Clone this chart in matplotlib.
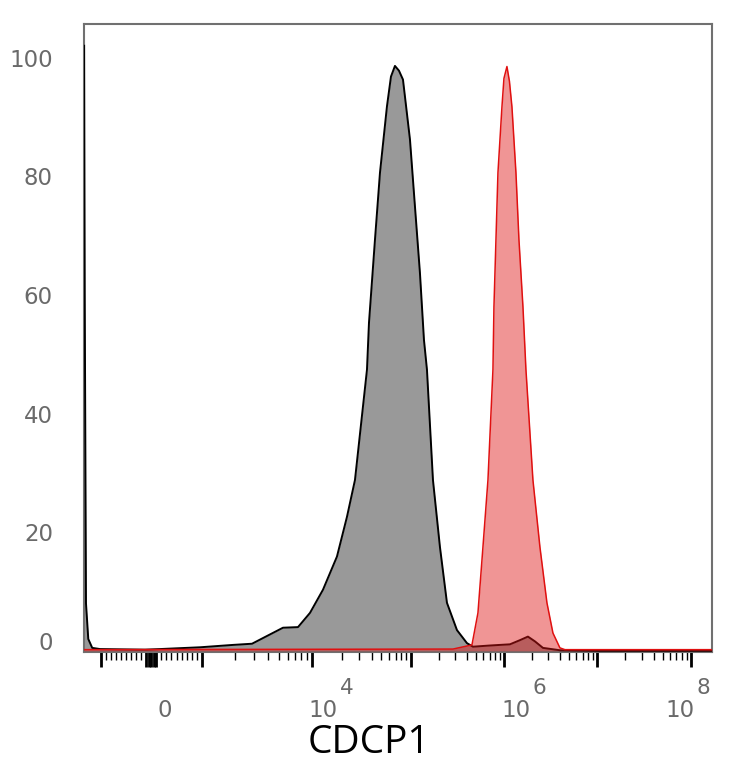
import numpy as np
import matplotlib
matplotlib.use('Agg')
import matplotlib.pyplot as plt
from matplotlib.transforms import ScaledTranslation
from matplotlib.ticker import FixedLocator, NullFormatter

# Histograma CDCP1 (intensidad de fluorescencia, % del modo)
control_x = [-2180, -2120, -2000, -1800, -1500, -1050, -120, 176, 961,
             1913, 2850, 3370, 5450, 7460, 9590, 12910, 17880, 22570, 27180,
             35940, 37650, 43280, 48630, 57220, 62800, 68900, 75650, 83030,
             97700, 110400, 124900, 138000, 148600, 172400, 205000, 243800,
             312300, 400100, 464200, 707000, 1160000, 1486000, 1811000,
             2154000, 2627000, 4000000, 10700000, 167000000]
control_y = [102, 60, 8, 2, 0.5, 0.3, 0.2, 0.3, 0.6,
             1.0, 1.2, 1.9, 3.9, 4.0, 6.4, 10.3, 15.9, 22.6, 28.8,
             47.4, 55.3, 69.3, 80.6, 91.8, 96.8, 98.6, 97.8, 96.3,
             86.2, 74.9, 63.7, 52.4, 47.4, 28.8, 17.5, 8.1,
             3.5, 1.3, 0.7, 0.9, 1.1, 1.8, 2.4,
             1.6, 0.5, 0.1, 0, 0]

cdcp1_x = [-2200, 282900, 452900, 525300, 594500, 673000, 761500, 780600,
           820400, 862000, 951700, 1000000, 1077000, 1146000, 1219000,
           1346000, 1450000, 1601000, 1724000, 2050000, 2438000, 2900000,
           3365000, 4000000, 4529000, 167000000]
cdcp1_y = [0.2, 0.3, 1.0, 6.4, 17.5, 28.8, 47.4, 58.0,
           69.3, 80.6, 91.7, 96.5, 98.5, 96.0, 91.7,
           80.6, 69.3, 58.0, 47.4, 28.8, 17.5, 8.1,
           3.0, 0.5, 0.2, 0.2]

y_ticks = [0, 20, 40, 60, 80, 100]
x_label_vals = [0, 1e4, 1e6, 1e8]
x_label_base = ['0', '10', '10', '10']
x_label_exp = ['', '4', '6', '8']

# escala biexponencial aproximada (lineal entre -1000 y 1000, log fuera)
U_ANCHOR = [-3, -1, 0, 1, 2, 3, 4, 5, 6, 8]
P_ANCHOR = [1, 101, 151, 202, 312, 411, 504, 597, 691, 879]


def forward(x):
    x = np.asarray(x, dtype=float)
    ax_ = np.abs(x)
    u = np.where(ax_ <= 1000, x / 1000,
                 np.sign(x) * (1 + np.log10(np.maximum(ax_, 1000) / 1000)))
    return np.interp(u, U_ANCHOR, P_ANCHOR)


def inverse(p):
    u = np.interp(np.asarray(p, dtype=float), P_ANCHOR, U_ANCHOR)
    au = np.abs(u)
    return np.where(au <= 1, u * 1000,
                    np.sign(u) * 1000 * 10 ** (np.maximum(au, 1) - 1))


fig = plt.figure(figsize=(7.34, 7.68), dpi=100)
ax = fig.add_axes([0.1138, 0.151, 0.856, 0.818])
ax.set_xscale('function', functions=(forward, inverse))

ax.fill_between(control_x, control_y, 0, color='#999999', lw=0, zorder=2)
ax.plot(control_x, control_y, color='black', lw=1.4, zorder=3)
ax.fill_between(cdcp1_x, cdcp1_y, 0, color=(0.87, 0.08, 0.08), alpha=0.45,
                lw=0, zorder=4)
ax.plot(cdcp1_x, cdcp1_y, color='#e01010', lw=1.1, zorder=5)

ax.set_xlim(-2240, 1.67e8)
ax.set_ylim(-0.2, 105.7)

for s in ax.spines.values():
    s.set_color('#707070')
    s.set_linewidth(1.5)

# ticks del eje x
major = [-1000, -100, -50, 0, 50, 100, 1000, 1e4, 1e5, 1e6, 1e7, 1e8]
minor = [v for v in range(-900, 1000, 100) if abs(v) > 100]
for d in [1e3, 1e4, 1e5, 1e6, 1e7]:
    minor += [k * d for k in range(2, 10)]
ax.xaxis.set_major_locator(FixedLocator(major))
ax.xaxis.set_major_formatter(NullFormatter())
ax.xaxis.set_minor_locator(FixedLocator(minor))
ax.xaxis.set_minor_formatter(NullFormatter())
ax.tick_params(axis='x', which='major', length=11, width=2, color='black')
ax.tick_params(axis='x', which='minor', length=6, width=1, color='black')

# etiquetas del eje x: base + exponente
gris = '#6a6a6a'
base_dx = [14, 11.5, 12.5, -11]
for v, b, e, dx in zip(x_label_vals, x_label_base, x_label_exp, base_dx):
    ax.annotate(b, xy=(v, 0), xycoords=('data', 'axes fraction'),
                xytext=(dx, -47), textcoords='offset pixels',
                ha='center', va='top', fontsize=16.5, color=gris,
                family='DejaVu Sans', annotation_clip=False)
    if e:
        ax.annotate(e, xy=(v, 0), xycoords=('data', 'axes fraction'),
                    xytext=(dx + 23, -26), textcoords='offset pixels',
                    ha='center', va='top', fontsize=15.5, color=gris,
                    family='DejaVu Sans', annotation_clip=False)

ax.set_yticks(y_ticks)
ax.set_yticklabels([str(v) for v in y_ticks])
ax.tick_params(axis='y', length=0, pad=22, labelsize=16.5, labelcolor=gris)
for lab in ax.get_yticklabels():
    lab.set_fontfamily('DejaVu Sans')
    if lab.get_text() == '0':
        lab.set_transform(lab.get_transform() + ScaledTranslation(0, 0.10, fig.dpi_scale_trans))

fig.text(369 / 734, 15 / 768, 'CDCP1', ha='center', va='baseline',
         fontsize=28, family='Open Sans', color='black')

fig.savefig('out.png', dpi=100)
